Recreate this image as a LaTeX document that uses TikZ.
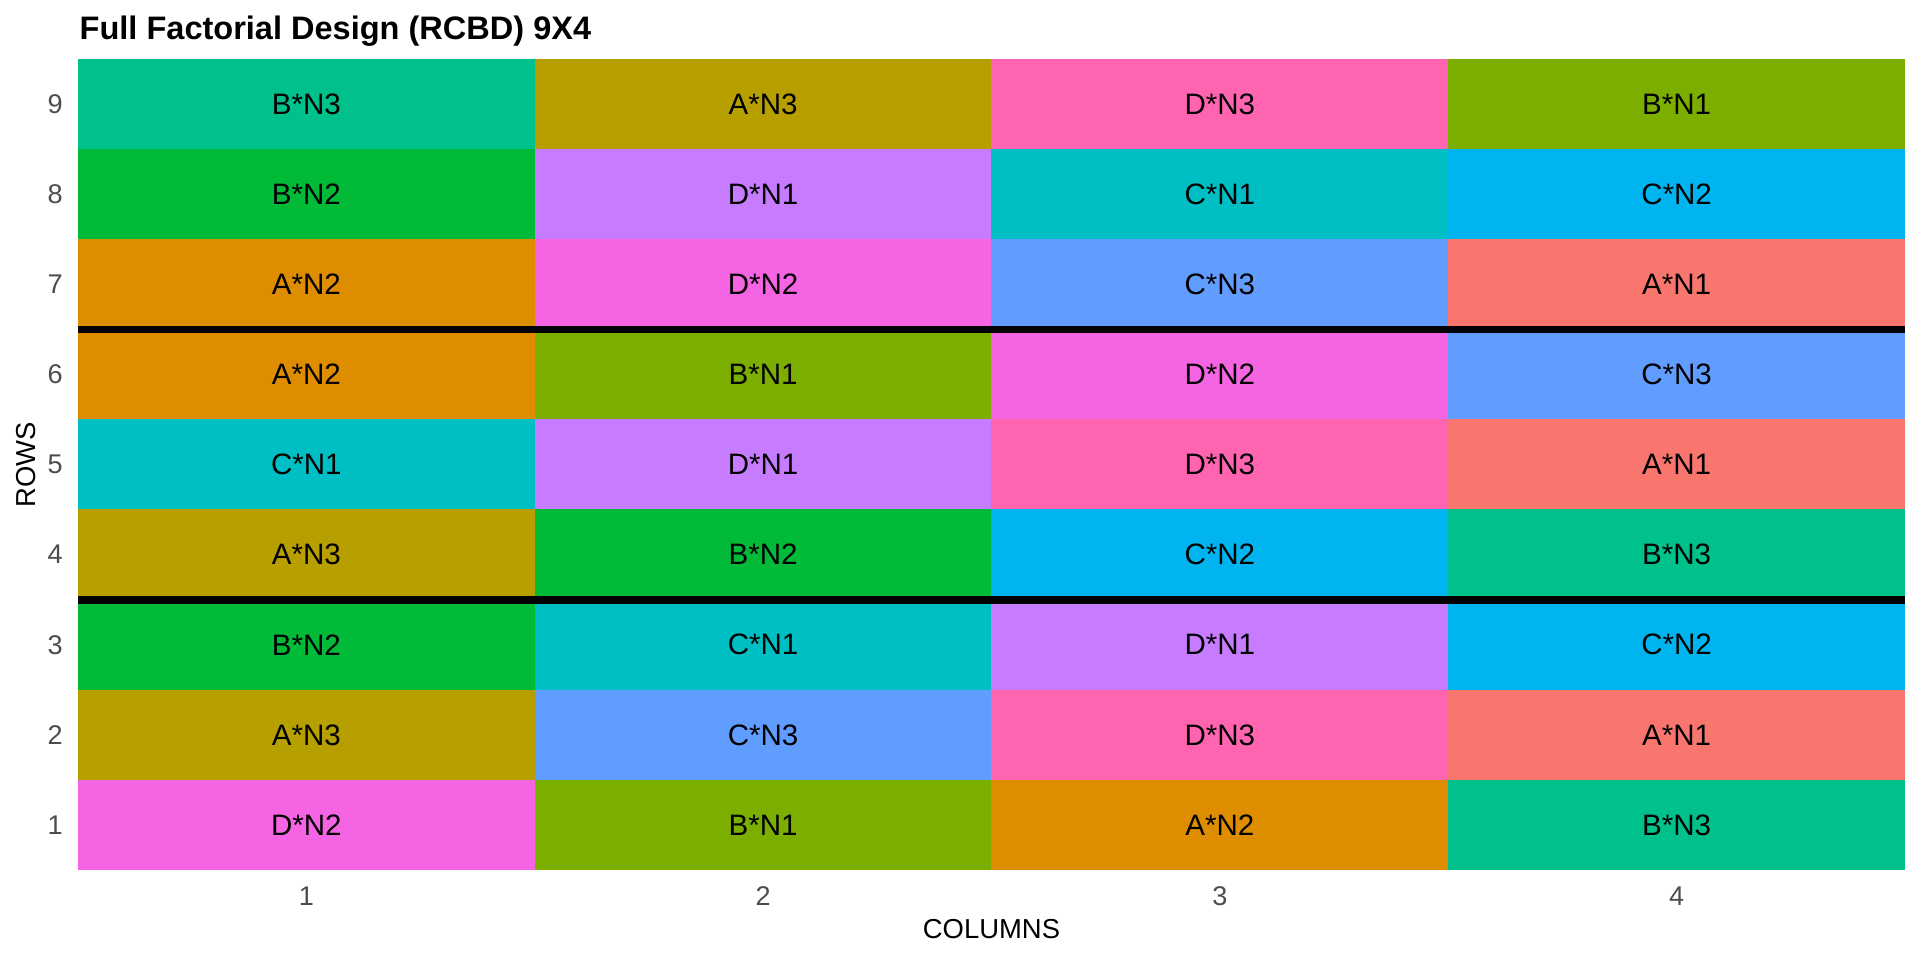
\documentclass[tikz,border=0pt]{standalone}
\usepackage{fontspec}
\setmainfont{Liberation Sans}
\definecolor{cA1}{HTML}{F8766D}
\definecolor{cA2}{HTML}{DE8C00}
\definecolor{cA3}{HTML}{B79F00}
\definecolor{cB1}{HTML}{7CAE00}
\definecolor{cB2}{HTML}{00BA38}
\definecolor{cB3}{HTML}{00C08B}
\definecolor{cC1}{HTML}{00BFC4}
\definecolor{cC2}{HTML}{00B4F0}
\definecolor{cC3}{HTML}{619CFF}
\definecolor{cD1}{HTML}{C77CFF}
\definecolor{cD2}{HTML}{F564E3}
\definecolor{cD3}{HTML}{FF64B0}
\definecolor{tickgray}{HTML}{4D4D4D}
\newcommand{\plotcell}[4]{%
  \node[cell, fill=c#3#4] (c#1r#2) at ({78+(#1-0.5)*456.75},{870-(#2-0.5)*90.111}) {#3*N#4};}
\begin{document}
\begin{tikzpicture}[x=0.01cm, y=-0.01cm,
  cell/.style={draw=none, inner sep=0pt, outer sep=0pt, minimum width=4.5695cm, minimum height=0.9031cm, font=\fontsize{8.4}{10}\selectfont, text=black},
  sepline/.style={line width=2.2pt, black},
  ticklab/.style={inner sep=0pt, text=tickgray, font=\fontsize{7.7}{9}\selectfont},
  axtitle/.style={inner sep=0pt, text=black, font=\fontsize{7.8}{9}\selectfont},
  titlelab/.style={inner sep=0pt, text=black, font=\fontsize{9.25}{11}\selectfont\bfseries}]
\useasboundingbox[fill=white] (0,0) rectangle (1920,960);
% row 9
\plotcell{1}{9}{B}{3}\plotcell{2}{9}{A}{3}\plotcell{3}{9}{D}{3}\plotcell{4}{9}{B}{1}
% row 8
\plotcell{1}{8}{B}{2}\plotcell{2}{8}{D}{1}\plotcell{3}{8}{C}{1}\plotcell{4}{8}{C}{2}
% row 7
\plotcell{1}{7}{A}{2}\plotcell{2}{7}{D}{2}\plotcell{3}{7}{C}{3}\plotcell{4}{7}{A}{1}
% row 6
\plotcell{1}{6}{A}{2}\plotcell{2}{6}{B}{1}\plotcell{3}{6}{D}{2}\plotcell{4}{6}{C}{3}
% row 5
\plotcell{1}{5}{C}{1}\plotcell{2}{5}{D}{1}\plotcell{3}{5}{D}{3}\plotcell{4}{5}{A}{1}
% row 4
\plotcell{1}{4}{A}{3}\plotcell{2}{4}{B}{2}\plotcell{3}{4}{C}{2}\plotcell{4}{4}{B}{3}
% row 3
\plotcell{1}{3}{B}{2}\plotcell{2}{3}{C}{1}\plotcell{3}{3}{D}{1}\plotcell{4}{3}{C}{2}
% row 2
\plotcell{1}{2}{A}{3}\plotcell{2}{2}{C}{3}\plotcell{3}{2}{D}{3}\plotcell{4}{2}{A}{1}
% row 1
\plotcell{1}{1}{D}{2}\plotcell{2}{1}{B}{1}\plotcell{3}{1}{A}{2}\plotcell{4}{1}{B}{3}
% block separators
\draw[sepline] (c1r7.south west) -- (c4r7.south east);
\draw[sepline] (c1r4.south west) -- (c4r4.south east);
% row tick labels
\foreach \r in {1,...,9} {
  \node[ticklab, anchor=east] (rowtick\r) at (63.5,{870-(\r-0.5)*90.111}) {\r};
}
% column tick labels
\foreach \c in {1,...,4} {
  \node[ticklab] (coltick\c) at ({78+(\c-0.5)*456.75},896.5) {\c};
}
% axis titles
\node[axtitle] (xtitle) at (991.5,929.5) {COLUMNS};
\node[axtitle, rotate=90] (ytitle) at (26.5,464.5) {ROWS};
% title
\node[titlelab, anchor=base west] (title) at (79,39) {Full Factorial Design (RCBD) 9X4};
\end{tikzpicture}
\end{document}
